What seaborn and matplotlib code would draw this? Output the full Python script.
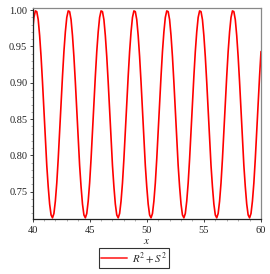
import numpy as np
import matplotlib.pyplot as plt
from matplotlib.ticker import MultipleLocator, FormatStrFormatter
import seaborn as sns

x_start = 40.0
x_step = 0.125
r2_s2 = [
    0.970, 0.990, 0.999, 0.998, 0.987, 0.965, 0.936, 0.901, 0.863, 0.824, 0.786, 0.757,
    0.733, 0.718, 0.714, 0.720, 0.737, 0.762, 0.795, 0.832, 0.871, 0.909, 0.943,
    0.970, 0.990, 0.999, 0.998, 0.987, 0.965, 0.936, 0.901, 0.863, 0.824, 0.786, 0.757,
    0.733, 0.718, 0.714, 0.720, 0.737, 0.762, 0.795, 0.832, 0.871, 0.909, 0.943,
    0.970, 0.990, 0.999, 0.998, 0.987, 0.965, 0.936, 0.901, 0.863, 0.824, 0.786, 0.757,
    0.733, 0.718, 0.714, 0.720, 0.737, 0.762, 0.795, 0.832, 0.871, 0.909, 0.943,
    0.970, 0.990, 0.999, 0.998, 0.987, 0.965, 0.936, 0.901, 0.863, 0.824, 0.786, 0.757,
    0.733, 0.718, 0.714, 0.720, 0.737, 0.762, 0.795, 0.832, 0.871, 0.909, 0.943,
    0.970, 0.990, 0.999, 0.998, 0.987, 0.965, 0.936, 0.901, 0.863, 0.824, 0.786, 0.757,
    0.733, 0.718, 0.714, 0.720, 0.737, 0.762, 0.795, 0.832, 0.871, 0.909, 0.943,
    0.970, 0.990, 0.999, 0.998, 0.987, 0.965, 0.936, 0.901, 0.863, 0.824, 0.786, 0.757,
    0.733, 0.718, 0.714, 0.720, 0.737, 0.762, 0.795, 0.832, 0.871, 0.909, 0.943,
    0.970, 0.990, 0.999, 0.998, 0.987, 0.965, 0.936, 0.901, 0.863, 0.824, 0.786, 0.757,
    0.733, 0.718, 0.714, 0.720, 0.737, 0.762, 0.795, 0.832, 0.871, 0.909, 0.943,
]
x_vals = x_start + x_step * np.arange(len(r2_s2))

x_ticks = [40, 45, 50, 55, 60]
y_ticks = [0.75, 0.80, 0.85, 0.90, 0.95, 1.00]
series_label = r"$R^2+S^2$"

sns.set_style("ticks")
plt.rcParams["font.family"] = ["Liberation Serif", "DejaVu Serif"]
plt.rcParams["mathtext.fontset"] = "stix"

fig = plt.figure(figsize=(2.70, 2.74), dpi=100)
ax = fig.add_axes([32.5 / 270, 1 - 219.3 / 274, (261 - 32.5) / 270, (219.3 - 8) / 274])

sns.lineplot(x=x_vals, y=r2_s2, color="#ff0000", linewidth=1.2, ax=ax,
             label=series_label, legend=False)

ax.set_xlim(40, 60)
ax.set_ylim(0.712, 1.003)
ax.set_xticks(x_ticks)
ax.set_yticks(y_ticks)
ax.yaxis.set_major_formatter(FormatStrFormatter("%.2f"))
ax.xaxis.set_minor_locator(MultipleLocator(1))
ax.yaxis.set_minor_locator(MultipleLocator(0.01))
ax.tick_params(which="major", length=2.2, width=0.6, labelsize=7.5,
               colors="#222222", direction="out")
ax.tick_params(axis="x", which="major", pad=2.6)
ax.tick_params(axis="y", which="major", pad=1.5)
ax.tick_params(which="minor", length=1.2, width=0.4, colors="#777777", direction="out")

for side in ["left", "bottom"]:
    ax.spines[side].set_color("#222222")
    ax.spines[side].set_linewidth(0.9)
for side in ["top", "right"]:
    ax.spines[side].set_visible(True)
    ax.spines[side].set_color("#888888")
    ax.spines[side].set_linewidth(0.9)

ax.set_xlabel(r"$x$", fontsize=8, labelpad=1.2, color="#222222")
ax.set_ylabel("")

handles, labels = ax.get_legend_handles_labels()
leg = fig.legend(handles, labels, loc="center", bbox_to_anchor=(134 / 270, 1 - 258 / 274),
                 frameon=True, fancybox=False, edgecolor="black", fontsize=7.8,
                 handlelength=2.4, handletextpad=0.5, borderpad=0.2, borderaxespad=0)
leg.get_frame().set_linewidth(0.8)
for line in leg.get_lines():
    line.set_color("#ff4444")
    line.set_linewidth(1.4)

fig.savefig("out.png", dpi=100)
plt.close(fig)
